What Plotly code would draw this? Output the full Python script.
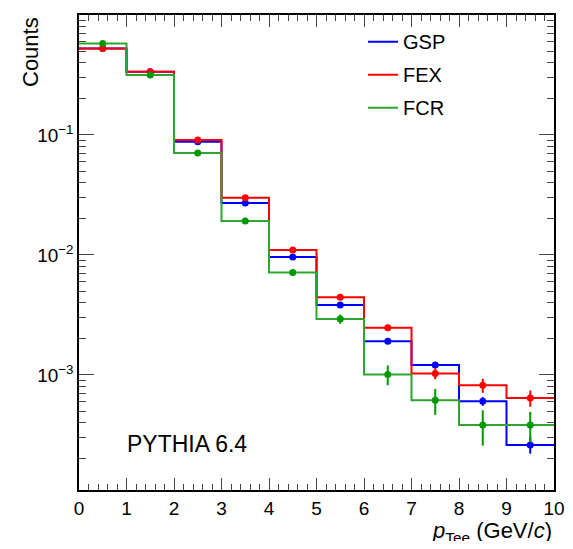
import numpy as np
import plotly.graph_objects as go

bin_edges = [0, 1, 2, 3, 4, 5, 6, 7, 8, 9, 10]
bin_centers = [0.5, 1.5, 2.5, 3.5, 4.5, 5.5, 6.5, 7.5, 8.5, 9.5]

gsp = [0.527, 0.337, 0.088, 0.0271, 0.0096, 0.00383, 0.00191, 0.00121, 0.000604, 0.000261]
gsp_err = [0.004, 0.003, 0.0009, 0.0004, 0.00015, 0.00008, 0.00006, 0.00006, 0.00005, 0.00004]
fex = [0.527, 0.337, 0.0908, 0.0300, 0.0110, 0.00444, 0.00248, 0.00103, 0.00082, 0.000643]
fex_err = [0.004, 0.003, 0.0009, 0.0004, 0.00018, 0.0001, 0.00012, 0.00011, 0.00011, 0.0001]
fcr = [0.58, 0.316, 0.0708, 0.0192, 0.00713, 0.00293, 0.00101, 0.000615, 0.000383, 0.000383]
fcr_err = [0.004, 0.003, 0.0008, 0.0004, 0.0002, 0.00026, 0.00019, 0.00015, 0.000125, 0.00011]

series = [
    ("GSP", gsp, gsp_err, "#0000ff", "#0000ff"),
    ("FEX", fex, fex_err, "#ff0000", "#ff0000"),
    ("FCR", fcr, fcr_err, "#2ea52e", "#009900"),
]

y_major = [1e-3, 1e-2, 1e-1, 1]
y_major_text = ["10<sup>−3</sup>", "10<sup>−2</sup>", "10<sup>−1</sup>", "1"]
x_major = list(range(0, 11))

fig = go.Figure()
for name, vals, errs, lc, mc in series:
    fig.add_trace(go.Scatter(
        x=bin_edges, y=vals + [vals[-1]], mode="lines", line=dict(color=lc, width=2, shape="hv"),
        name=name, legendgroup=name, showlegend=True,
    ))
for name, vals, errs, lc, mc in series:
    fig.add_trace(go.Scatter(
        x=bin_centers, y=vals, mode="markers",
        marker=dict(color=mc, size=7),
        error_y=dict(type="data", array=errs, color=mc, thickness=2, width=0),
        showlegend=False, legendgroup=name,
    ))

y_minor = [m * 10.0 ** e for e in range(-4, 0) for m in range(2, 10)]
x_minor = [i / 5 for i in range(0, 51) if i % 5 != 0]

font = "Liberation Sans, Arial, sans-serif"
fig.update_layout(
    width=557, height=533,
    margin=dict(l=71, r=11, t=7, b=51),
    plot_bgcolor="white", paper_bgcolor="white",
    font=dict(family=font, size=19, color="black"),
    showlegend=True,
    legend=dict(x=0.598, y=0.985, xanchor="left", yanchor="top", bgcolor="rgba(0,0,0,0)",
                font=dict(size=20), tracegroupgap=4, traceorder="grouped", itemwidth=30),
    xaxis=dict(range=[0, 10], tickmode="array", tickvals=x_major, ticks="inside", ticklen=12,
               tickcolor="#444", showline=True, linecolor="black", linewidth=1.5, mirror="allticks",
               showgrid=False, zeroline=False, tickfont=dict(size=19), automargin=False,
               minor=dict(tickvals=x_minor, ticks="inside", ticklen=6, tickcolor="#444", showgrid=False)),
    yaxis=dict(type="log", range=[np.log10(1.1e-4), 0], tickmode="array", tickvals=y_major,
               ticktext=y_major_text, ticks="inside", ticklen=15, tickcolor="#444",
               showline=True, linecolor="black", linewidth=1.5, mirror="allticks",
               showgrid=False, zeroline=False, tickfont=dict(size=19), automargin=False,
               minor=dict(tickvals=y_minor, ticks="inside", ticklen=7, tickcolor="#444", showgrid=False)),
    annotations=[
        dict(text="Counts", xref="paper", yref="paper", x=0, y=1, xshift=-49, xanchor="center",
             yanchor="top", textangle=-90, showarrow=False, font=dict(size=22)),
        dict(text="<i>p</i><sub>Tee</sub> (GeV/<i>c</i>)", xref="paper", yref="paper", x=1, y=0,
             xanchor="right", yanchor="top", yshift=-26, showarrow=False, font=dict(size=22)),
        dict(text="PYTHIA 6.4", xref="paper", yref="paper", x=0.097, y=0.097, xanchor="left",
             yanchor="middle", showarrow=False, font=dict(size=23)),
    ],
)

fig.write_html("out.html")
